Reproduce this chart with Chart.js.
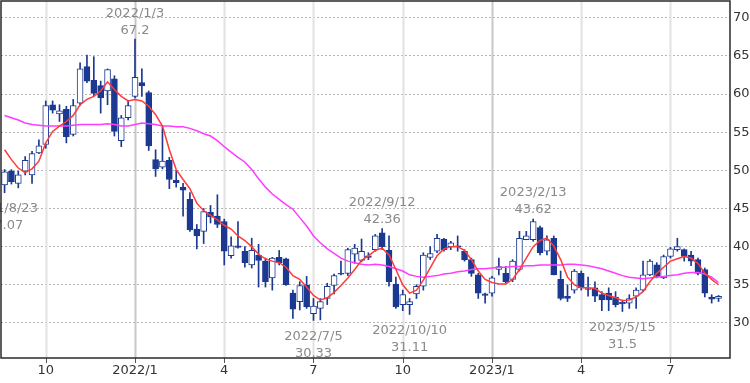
<!DOCTYPE html>
<html lang="ja">
<head>
    <meta charset="UTF-8">
    <title>週足チャート</title>
    <style>
        body { margin: 0; background: #fff; }
        #chart { display: block; }
    </style>
</head>
<body>
    <canvas id="chart" width="750" height="383"></canvas>

    <script src="https://cdn.jsdelivr.net/npm/chart.js"></script>
    <script>
        // weekly candles, 2021/8/23 - 2023/8/21
        const weeks = [
            '2021/8/23','2021/8/30','2021/9/6','2021/9/13','2021/9/20','2021/9/27','2021/10/4','2021/10/11','2021/10/18','2021/10/25',
            '2021/11/1','2021/11/8','2021/11/15','2021/11/22','2021/11/29','2021/12/6','2021/12/13','2021/12/20','2021/12/27','2022/1/3',
            '2022/1/10','2022/1/17','2022/1/24','2022/1/31','2022/2/7','2022/2/14','2022/2/21','2022/2/28','2022/3/7','2022/3/14',
            '2022/3/21','2022/3/28','2022/4/4','2022/4/11','2022/4/18','2022/4/25','2022/5/2','2022/5/9','2022/5/16','2022/5/23',
            '2022/5/30','2022/6/6','2022/6/13','2022/6/20','2022/6/27','2022/7/5','2022/7/11','2022/7/18','2022/7/25','2022/8/1',
            '2022/8/8','2022/8/15','2022/8/22','2022/8/29','2022/9/5','2022/9/12','2022/9/19','2022/9/26','2022/10/3','2022/10/10',
            '2022/10/17','2022/10/24','2022/10/31','2022/11/7','2022/11/14','2022/11/21','2022/11/28','2022/12/5','2022/12/12','2022/12/19',
            '2022/12/26','2023/1/2','2023/1/9','2023/1/16','2023/1/23','2023/1/30','2023/2/6','2023/2/13','2023/2/20','2023/2/27',
            '2023/3/6','2023/3/13','2023/3/20','2023/3/27','2023/4/3','2023/4/10','2023/4/17','2023/4/24','2023/5/1','2023/5/8',
            '2023/5/15','2023/5/22','2023/5/29','2023/6/5','2023/6/12','2023/6/19','2023/6/26','2023/7/3','2023/7/10','2023/7/17',
            '2023/7/24','2023/7/31','2023/8/7','2023/8/14','2023/8/21'
        ];

        const openP = [
            48.1,49.9,48.3,49.9,49.4,52.3,53.4,58.6,57.4,58.0, 54.7,58.8,63.6,61.8,61.1,60.4,62.0,53.9,56.9,59.7,
            61.5,60.2,51.4,50.4,51.3,48.7,47.8,46.2,42.3,42.0, 44.5,44.0,43.3,38.8,40.1,39.4,37.6,38.9,38.1,35.9,
            38.6,38.4,33.9,32.8,35.0,31.2,31.9,33.2,34.9,36.5, 36.5,39.0,38.2,38.8,39.6,41.8,39.5,35.1,32.4,32.4,
            33.8,34.8,38.6,39.4,41.0,40.0,40.1,39.4,38.3,36.3, 33.8,33.9,37.0,36.5,35.7,37.0,40.9,40.9,42.5,39.4,
            41.1,35.7,33.5,34.3,36.5,34.5,34.6,33.7,33.9,33.4, 32.7,32.6,33.5,34.3,36.3,37.6,35.9,38.7,39.6,39.6,
            38.9,38.3,37.0,33.4,33.2
        ];
        const highP = [
            50.1,50.1,49.9,51.8,52.5,54.0,59.1,59.1,58.6,58.4, 59.3,64.1,65.1,64.9,61.7,63.3,62.4,57.2,59.1,67.2,
            63.3,60.4,52.7,55.7,51.7,50.0,48.3,47.1,42.9,45.0, 45.4,46.8,43.6,41.3,43.3,40.0,41.1,40.3,38.5,38.6,
            39.5,38.5,34.3,35.4,36.1,33.2,33.2,35.2,36.4,38.1, 39.8,40.3,41.0,39.2,41.6,42.36,41.4,36.0,34.3,33.2,
            35.0,39.2,40.0,41.6,41.1,40.7,41.4,39.6,38.5,36.5, 33.9,36.1,38.5,37.4,38.3,42.0,42.0,43.62,42.7,41.4,
            41.4,36.8,35.0,37.0,36.8,36.0,35.4,34.1,34.6,34.1, 33.0,33.7,34.6,38.1,38.3,37.9,38.9,39.9,41.1,39.7,
            39.4,38.5,37.2,33.7,33.6
        ];
        const lowP = [
            47.07,48.2,47.7,49.4,48.3,52.2,52.9,57.5,56.4,53.6, 54.5,58.5,61.5,59.7,57.5,58.6,54.5,53.1,56.6,59.5,
            59.7,52.6,49.2,50.2,47.6,47.8,44.0,42.0,39.7,40.4, 43.1,42.5,37.6,38.5,39.8,37.3,37.2,34.7,34.7,34.3,
            37.6,34.9,30.6,31.7,31.9,30.33,30.4,32.4,33.8,36.3, 36.2,37.8,38.0,38.3,39.4,39.6,34.8,31.9,31.6,31.11,
            33.2,34.3,38.3,39.2,39.4,39.6,39.4,38.1,36.1,33.2, 32.6,33.5,36.3,35.2,35.4,36.8,40.9,40.7,38.9,38.9,
            36.3,33.0,32.8,33.9,34.3,33.5,32.8,31.6,31.6,32.1, 31.5,31.9,31.9,34.1,36.2,35.9,35.8,38.5,39.4,38.1,
            37.5,36.3,33.4,32.6,32.8
        ];
        const closeP = [
            49.8,48.5,49.4,51.3,52.2,53.2,58.5,57.9,57.8,54.4, 58.5,63.3,61.7,60.1,59.5,63.2,55.1,56.9,58.5,62.2,
            61.1,53.2,50.2,51.2,48.8,48.4,47.4,42.2,41.4,44.6, 43.9,42.9,39.4,40.1,39.9,37.9,39.5,38.2,35.4,38.5,
            37.9,35.0,31.8,34.9,32.1,32.2,32.8,34.8,36.2,36.4, 39.6,39.8,39.4,38.6,41.4,40.0,35.4,32.1,33.7,32.8,
            34.8,38.9,39.1,41.1,39.6,40.5,40.0,38.3,36.5,33.9, 33.6,35.9,37.4,35.4,38.1,41.1,41.4,43.3,39.2,40.9,
            36.3,33.2,33.2,36.8,34.6,34.4,33.5,33.0,33.0,32.4, 32.5,33.2,34.3,36.3,38.1,36.1,38.7,39.7,40.0,38.7,
            38.1,36.5,33.9,33.1,33.5
        ];

        // moving averages
        const maShort = [
            52.7,51.4,50.3,49.7,50.2,51.2,53.6,55.1,55.8,56.4, 57.2,58.6,59.3,59.7,60.4,61.6,60.6,59.7,59.1,59.3,
            59.1,58.4,57.3,55.8,52.7,50.1,48.8,47.6,45.7,44.7, 44.1,43.5,42.8,42.3,41.4,40.8,40.0,39.0,38.4,38.1,
            37.9,37.3,36.2,35.7,34.7,33.6,33.0,33.3,34.0,34.9, 35.9,37.0,38.2,38.8,39.5,39.8,38.9,37.0,35.0,33.9,
            34.3,35.6,37.2,38.8,39.7,40.0,40.0,39.5,38.3,36.8, 35.7,35.3,35.1,35.1,35.7,37.0,38.5,40.0,40.8,41.1,
            40.1,38.3,36.0,35.0,34.6,34.6,34.5,33.9,33.6,33.3, 32.9,33.0,33.4,34.1,35.4,36.5,37.3,38.1,38.4,38.7,
            38.5,37.8,36.5,35.7,35.0
        ];
        const maLong = [
            57.2,56.9,56.6,56.2,56.0,55.9,55.8,55.8,55.8,55.8, 55.9,56.0,56.0,56.0,56.0,56.1,56.0,55.8,55.8,56.0,
            56.2,56.1,56.0,55.8,55.8,55.7,55.7,55.5,55.2,54.8, 54.5,53.9,53.1,52.4,51.7,51.1,50.1,48.9,47.8,46.9,
            46.2,45.5,44.9,43.8,42.7,41.4,40.5,39.7,39.1,38.5, 38.1,37.9,37.7,37.6,37.7,37.6,37.4,37.1,36.8,36.3,
            36.1,36.0,36.1,36.2,36.4,36.5,36.7,36.8,37.0,37.1, 37.1,37.2,37.3,37.3,37.4,37.4,37.5,37.5,37.6,37.6,
            37.6,37.6,37.7,37.7,37.6,37.5,37.3,37.1,36.8,36.5, 36.2,36.0,35.9,35.8,35.9,36.0,36.1,36.2,36.3,36.5,
            36.6,36.6,36.4,36.0,35.3
        ];

        const xTickIdx = [6, 19, 32, 45, 58, 71, 84, 97];
        const xTickText = ['10', '2022/1', '4', '7', '10', '2023/1', '4', '7'];
        const yTicks = [30, 35, 40, 45, 50, 55, 60, 65, 70];

        // high / low marks
        const markIdx = [0, 19, 45, 55, 59, 77, 90];
        const markVal = [47.07, 67.2, 30.33, 42.36, 31.11, 43.62, 31.5];
        const markSide = ['low', 'high', 'low', 'high', 'low', 'high', 'low'];

        const BLUE = '#1b3990';
        const FONT = 'DejaVu Sans';

        const bodyData = weeks.map((w, i) => ({ x: i, y: [openP[i], closeP[i]] }));
        const wickData = weeks.map((w, i) => ({ x: i, y: [lowP[i], highP[i]] }));
        const bodyFill = weeks.map((w, i) => closeP[i] >= openP[i] ? '#ffffff' : BLUE);

        // vertical grid lines + tick marks, drawn under the candles
        const xGridPlugin = {
            id: 'xgrid',
            beforeDatasetsDraw(chart) {
                const a = chart.chartArea;
                const c = chart.ctx;
                const xs = chart.scales.x;
                c.save();
                xTickIdx.forEach((v, k) => {
                    const px = Math.round(xs.getPixelForValue(v)) + 0.5;
                    c.strokeStyle = xTickText[k].includes('/') ? '#c8c8c8' : '#e2e2e2';
                    c.lineWidth = 2;
                    c.beginPath();
                    c.moveTo(px, a.top);
                    c.lineTo(px, a.bottom);
                    c.stroke();
                    c.strokeStyle = '#555';
                    c.lineWidth = 1;
                    c.beginPath();
                    c.moveTo(px, a.bottom);
                    c.lineTo(px, a.bottom + 5);
                    c.stroke();
                });
                c.restore();
            }
        };

        const framePlugin = {
            id: 'frame',
            afterDraw(chart) {
                const a = chart.chartArea;
                const c = chart.ctx;
                c.save();
                c.strokeStyle = '#2a2a2a';
                c.lineWidth = 1.5;
                c.strokeRect(a.left, a.top, a.right - a.left, a.bottom - a.top);
                c.restore();
            }
        };

        const marksPlugin = {
            id: 'marks',
            afterDatasetsDraw(chart) {
                const c = chart.ctx;
                const xs = chart.scales.x;
                const ys = chart.scales.y;
                c.save();
                c.font = '13px "' + FONT + '"';
                c.fillStyle = '#8a8a8a';
                c.textAlign = 'center';
                c.textBaseline = 'middle';
                markIdx.forEach((idx, k) => {
                    const px = xs.getPixelForValue(idx);
                    const py = ys.getPixelForValue(markVal[k]);
                    if (markSide[k] === 'high') {
                        c.fillText(weeks[idx], px, py - 26);
                        c.fillText(String(markVal[k]), px, py - 9);
                    } else {
                        c.fillText(weeks[idx], px, py + 16);
                        c.fillText(String(markVal[k]), px, py + 33);
                    }
                });
                c.restore();
            }
        };

        const chart = new Chart(document.getElementById('chart'), {
            type: 'bar',
            data: {
                datasets: [
                    {
                        type: 'line',
                        data: weeks.map((w, i) => ({ x: i, y: maShort[i] })),
                        borderColor: '#ff3a3a',
                        borderWidth: 1.5,
                        pointRadius: 0,
                        order: 0
                    },
                    {
                        type: 'line',
                        data: weeks.map((w, i) => ({ x: i, y: maLong[i] })),
                        borderColor: '#ff3cff',
                        borderWidth: 1.5,
                        pointRadius: 0,
                        order: 1
                    },
                    {
                        data: bodyData,
                        backgroundColor: bodyFill,
                        borderColor: BLUE,
                        borderWidth: 1,
                        borderSkipped: false,
                        barPercentage: 1,
                        categoryPercentage: 1,
                        maxBarThickness: 6,
                        grouped: false,
                        order: 2
                    },
                    {
                        data: wickData,
                        backgroundColor: BLUE,
                        borderWidth: 0,
                        barPercentage: 1,
                        categoryPercentage: 1,
                        maxBarThickness: 1,
                        grouped: false,
                        order: 3
                    }
                ]
            },
            options: {
                responsive: false,
                animation: false,
                layout: { autoPadding: false, padding: { left: 1, top: 1, right: 0, bottom: 0 } },
                plugins: {
                    legend: { display: false },
                    tooltip: { enabled: false }
                },
                scales: {
                    x: {
                        type: 'linear',
                        min: -0.52,
                        max: 105.67,
                        offset: false,
                        afterBuildTicks: (scale) => { scale.ticks = xTickIdx.map(v => ({ value: v })); },
                        afterFit: (scale) => {
                            scale.height = 25;
                            scale.paddingLeft = 0;
                            scale.paddingRight = 0;
                        },
                        grid: { display: false, drawTicks: false },
                        border: { display: false },
                        ticks: {
                            autoSkip: false,
                            maxRotation: 0,
                            padding: 5,
                            color: '#333',
                            font: { family: FONT, size: 13 },
                            callback: (value, index) => xTickText[index]
                        }
                    },
                    y: {
                        position: 'right',
                        min: 25.4,
                        max: 72.2,
                        afterBuildTicks: (scale) => { scale.ticks = yTicks.map(v => ({ value: v })); },
                        afterFit: (scale) => {
                            scale.width = 20;
                            scale.paddingTop = 0;
                            scale.paddingBottom = 0;
                        },
                        grid: { color: '#b4b4b4', lineWidth: 1, drawTicks: false },
                        border: { display: false, dash: [2, 2] },
                        ticks: {
                            padding: 3,
                            color: '#333',
                            font: { family: FONT, size: 13 }
                        }
                    }
                }
            },
            plugins: [xGridPlugin, framePlugin, marksPlugin]
        });
    </script>
</body>
</html>
